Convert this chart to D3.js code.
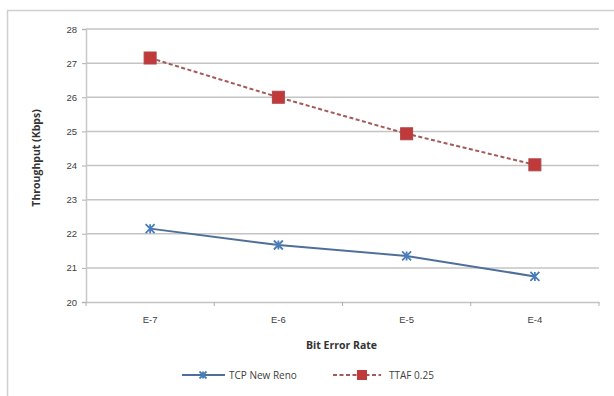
<!DOCTYPE html>
<html>
<head>
<meta charset="utf-8">
<script src="https://cdn.jsdelivr.net/npm/d3@7"></script>
<style>
  html, body { margin: 0; padding: 0; background: #fff; }
  svg { display: block; font-family: "Open Sans", "Liberation Sans", sans-serif; }
</style>
</head>
<body>
<svg id="chart" width="614" height="396"></svg>
<script>
// Bit error rate categories and throughput (Kbps) per protocol
const categories = ["E-7", "E-6", "E-5", "E-4"];
const tcpNewReno = [22.15, 21.67, 21.35, 20.75];
const ttaf025 = [27.15, 26.0, 24.93, 24.02];
const yTicks = [20, 21, 22, 23, 24, 25, 26, 27, 28];
const seriesNames = ["TCP New Reno", "TTAF 0.25"];

const svg = d3.select("#chart");
const W = 614, H = 396;
const plot = { left: 86, right: 599, top: 29, bottom: 302 };

// outer chart frame (left and top edges visible)
svg.append("rect").attr("x", 7.5).attr("y", 10.5)
  .attr("width", W + 10).attr("height", H + 10)
  .attr("fill", "#fff").attr("stroke", "#d0d0d0").attr("stroke-width", 1.5);

const x = d3.scaleBand().domain(categories).range([plot.left, plot.right]);
const y = d3.scaleLinear().domain([20, 28]).range([plot.bottom, plot.top]);

// horizontal gridlines
svg.append("g").selectAll("line").data(yTicks.slice(1)).join("line")
  .attr("x1", plot.left).attr("x2", plot.right)
  .attr("y1", d => y(d)).attr("y2", d => y(d))
  .attr("stroke", "#c4c4c4").attr("stroke-width", 1.5);

// y axis
const yAxis = svg.append("g").attr("transform", `translate(${plot.left},0)`)
  .call(d3.axisLeft(y).tickValues(yTicks).tickSize(4).tickPadding(5));
yAxis.select(".domain").attr("stroke", "#c8c8c8").attr("stroke-width", 1.5);
yAxis.selectAll(".tick line").attr("stroke", "#b0b0b0");
yAxis.selectAll("text").attr("font-size", 9.5).attr("fill", "#404040");

// x axis
const xAxis = svg.append("g").attr("transform", `translate(0,${plot.bottom})`)
  .call(d3.axisBottom(x).tickSize(0).tickPadding(14));
xAxis.select(".domain").attr("stroke", "#c4c4c4").attr("stroke-width", 1.5);
xAxis.selectAll("text").attr("font-size", 9.5).attr("fill", "#404040");
// category separator ticks
svg.append("g").selectAll("line")
  .data(categories.map(c => x(c)).concat([plot.right]))
  .join("line")
  .attr("x1", d => d).attr("x2", d => d)
  .attr("y1", plot.bottom).attr("y2", plot.bottom + 4)
  .attr("stroke", "#b0b0b0");

// axis titles
svg.append("text").attr("x", (plot.left + plot.right) / 2 - 1).attr("y", 349)
  .attr("text-anchor", "middle").attr("font-size", 10.5).attr("font-weight", "bold")
  .attr("fill", "#333").text("Bit Error Rate");
svg.append("text").attr("transform", "translate(40,158) rotate(-90)")
  .attr("text-anchor", "middle").attr("font-size", 10.5).attr("font-weight", "bold")
  .attr("fill", "#333").text("Throughput (Kbps)");

const cx = c => x(c) + x.bandwidth() / 2;
const line = d3.line().x((d, i) => cx(categories[i])).y(d => y(d));

const blue = "#4a7ebb", blueLine = "#4f6f9a";
const red = "#c0393b", redLine = "#a35a58";

// star marker (x with vertical stroke) used by TCP New Reno
function star(g, px, py, s) {
  g.append("path")
    .attr("d", `M${px - s},${py - s}L${px + s},${py + s}M${px - s},${py + s}L${px + s},${py - s}M${px},${py - s}L${px},${py + s}`)
    .attr("stroke", blue).attr("stroke-width", 1.8).attr("fill", "none");
}

// TCP New Reno series
svg.append("path").datum(tcpNewReno).attr("d", line)
  .attr("fill", "none").attr("stroke", blueLine).attr("stroke-width", 2);
const tcpMarks = svg.append("g");
tcpNewReno.forEach((v, i) => star(tcpMarks, cx(categories[i]), y(v), 4.5));

// TTAF 0.25 series
svg.append("path").datum(ttaf025).attr("d", line)
  .attr("fill", "none").attr("stroke", redLine).attr("stroke-width", 2)
  .attr("stroke-dasharray", "4,2.5");
svg.append("g").selectAll("rect").data(ttaf025).join("rect")
  .attr("x", (d, i) => cx(categories[i]) - 6).attr("y", d => y(d) - 6)
  .attr("width", 12).attr("height", 12)
  .attr("fill", red).attr("stroke", "#b04545").attr("stroke-width", 1);

// legend
const lg = svg.append("g");
lg.append("line").attr("x1", 182).attr("x2", 225).attr("y1", 375).attr("y2", 375)
  .attr("stroke", blueLine).attr("stroke-width", 2);
star(lg, 203, 375, 3.5);
lg.append("text").attr("x", 229).attr("y", 379).attr("font-size", 10)
  .attr("fill", "#404040").text(seriesNames[0]);
lg.append("line").attr("x1", 333).attr("x2", 381).attr("y1", 375).attr("y2", 375)
  .attr("stroke", redLine).attr("stroke-width", 2).attr("stroke-dasharray", "4,2.5");
lg.append("rect").attr("x", 357).attr("y", 370).attr("width", 10).attr("height", 10)
  .attr("fill", red);
lg.append("text").attr("x", 389).attr("y", 379).attr("font-size", 10)
  .attr("fill", "#404040").text(seriesNames[1]);
</script>
</body>
</html>
